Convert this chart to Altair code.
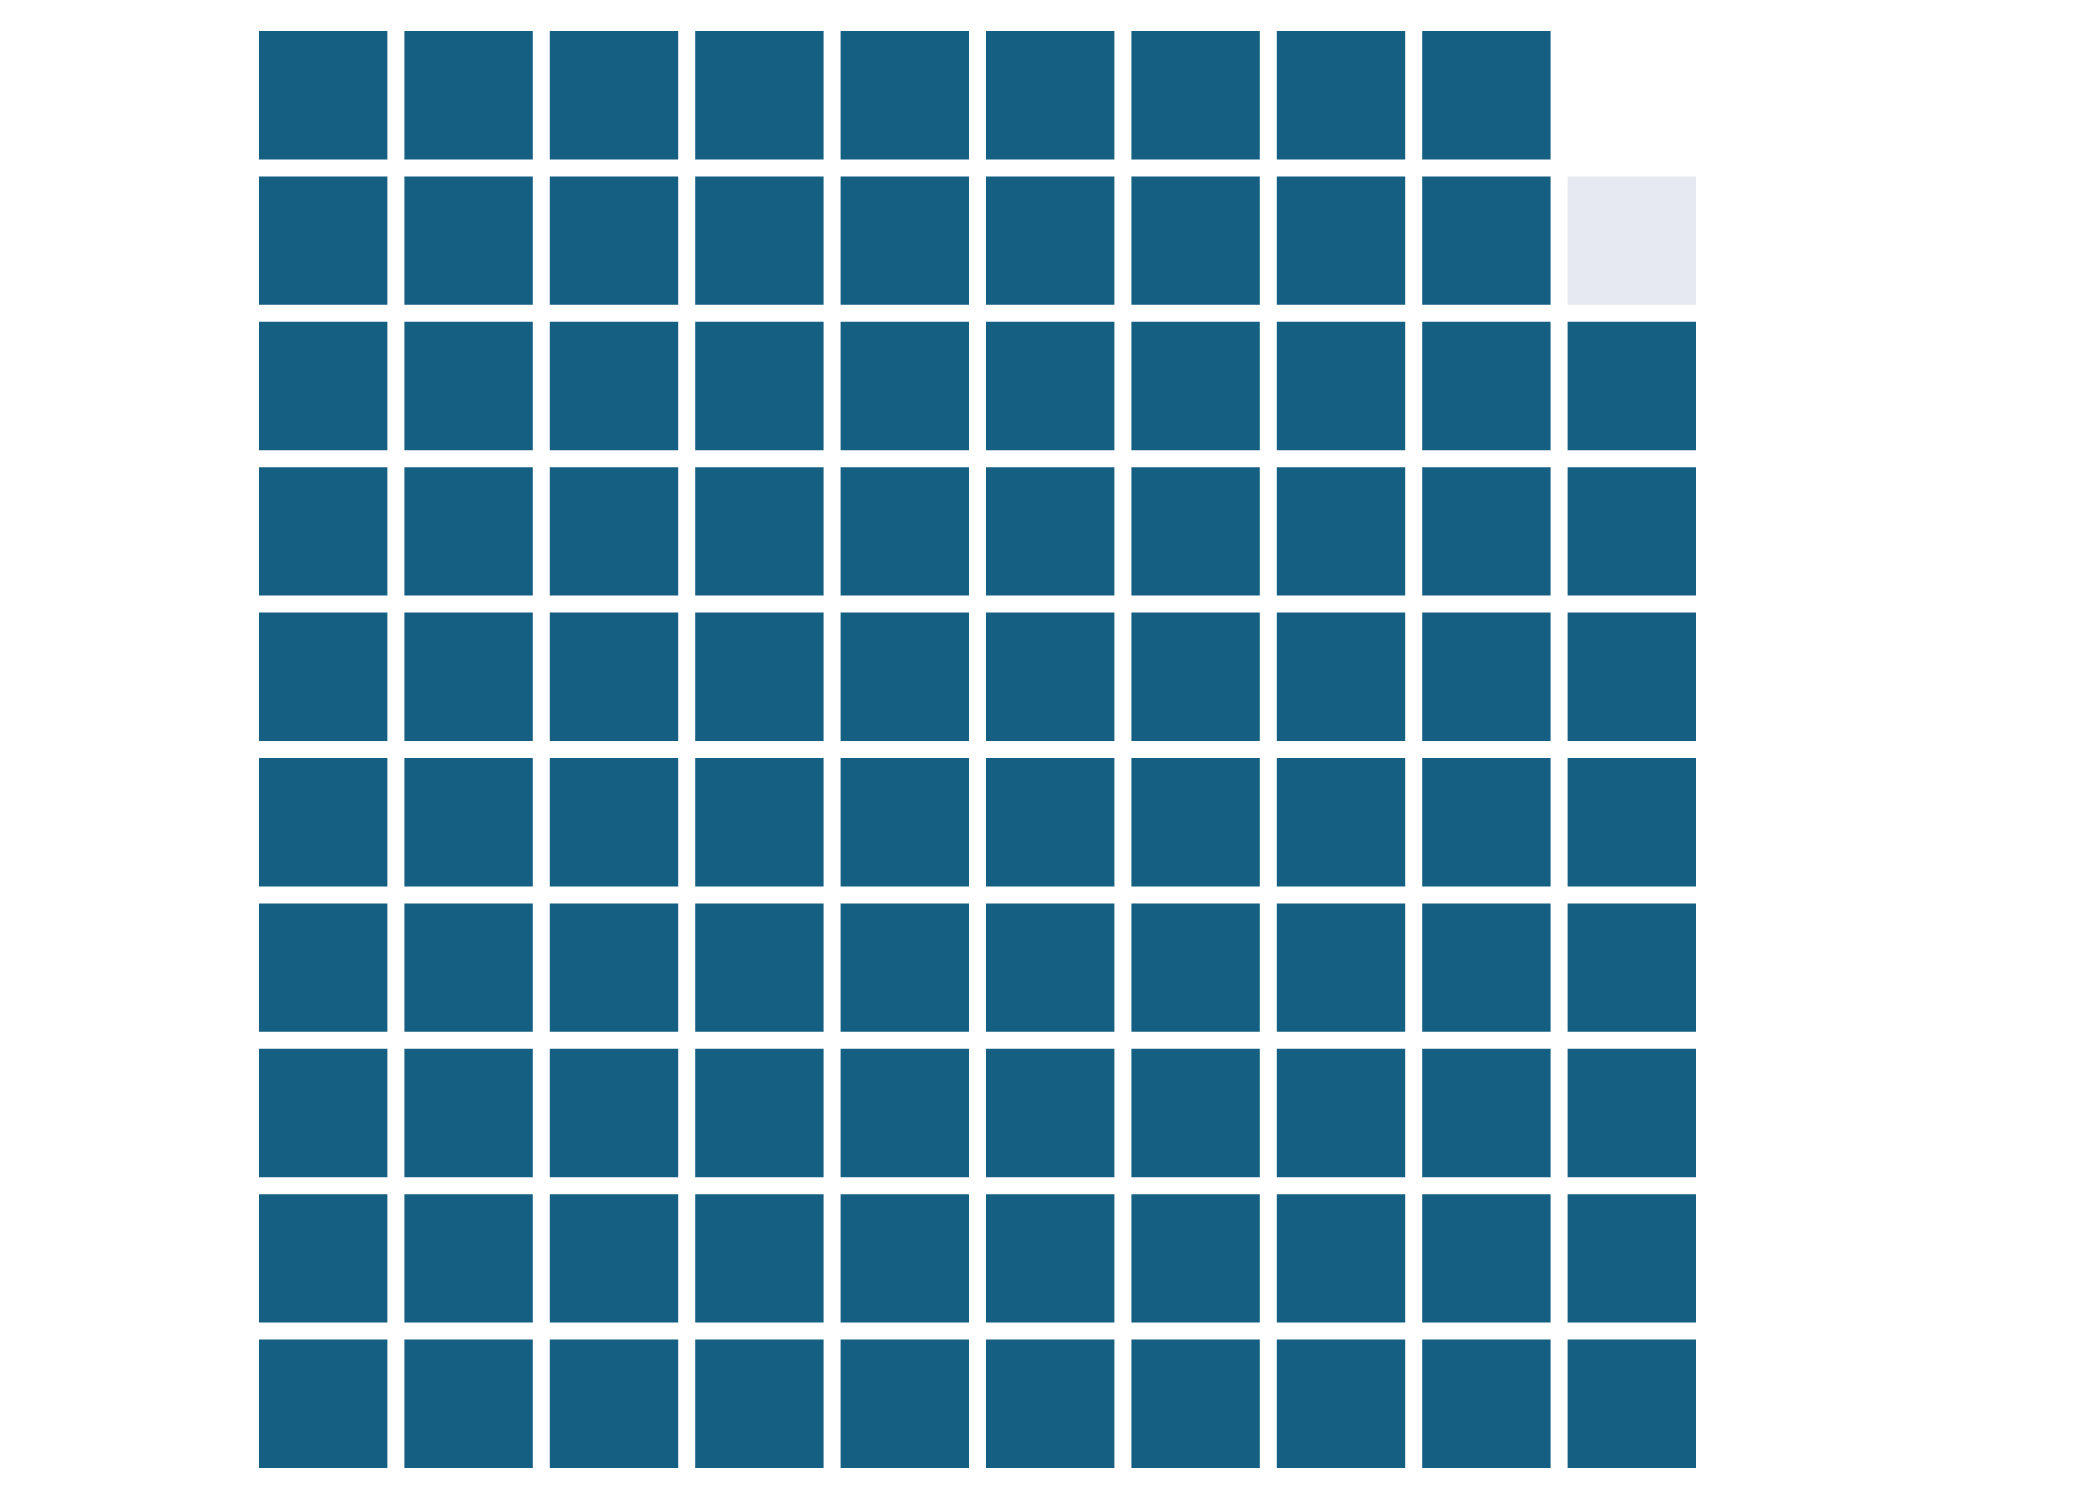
import altair as alt
import pandas as pd

# Waffle chart: 10 x 10 grid, filled column by column (left to right), bottom to top
categories = ["Filled", "Remaining"]
counts = [98, 1]
colors = ["#155f82", "#e6e9f2"]
n_cols = 10
n_rows = 10

records = []
idx = 0
for cat, cnt in zip(categories, counts):
    for _ in range(cnt):
        records.append({
            "col": idx // n_rows,
            "level": idx % n_rows,  # 0 = bottom row
            "category": cat,
        })
        idx += 1
df = pd.DataFrame(records)

chart = (
    alt.Chart(df)
    .mark_rect()
    .encode(
        x=alt.X("col:O", axis=None,
                scale=alt.Scale(domain=list(range(n_cols)), paddingInner=0.117, paddingOuter=0)),
        y=alt.Y("level:O", axis=None,
                scale=alt.Scale(domain=list(range(n_rows - 1, -1, -1)), paddingInner=0.117, paddingOuter=0)),
        color=alt.Color("category:N", legend=None,
                        scale=alt.Scale(domain=categories, range=colors)),
    )
    .properties(width=1437, height=1437,
                padding={"left": 251, "top": 23, "right": 0, "bottom": 0})
    .configure_view(stroke=None)
)

chart.save("out.html", embed_options={"renderer": "svg", "actions": False})
